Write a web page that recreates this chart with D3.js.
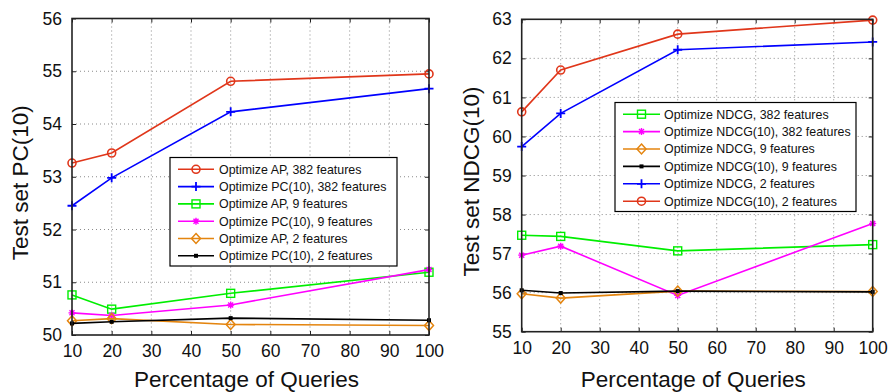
<!DOCTYPE html>
<html>
<head>
<meta charset="utf-8">
<script src="https://cdn.jsdelivr.net/npm/d3@7"></script>
<style>
  body { margin: 0; background: #fff; }
  svg { display: block; font-family: "Liberation Sans", Arial, Helvetica, sans-serif; }
</style>
</head>
<body>
<svg id="chart" width="893" height="392"></svg>
<script>
// ---------- data ----------
const percentages = [10, 20, 50, 100];
const xTicks = [10, 20, 30, 40, 50, 60, 70, 80, 90, 100];

const leftYTicks = [50, 51, 52, 53, 54, 55, 56];
const leftNames = [
  "Optimize AP, 382 features",
  "Optimize PC(10), 382 features",
  "Optimize AP, 9 features",
  "Optimize PC(10), 9 features",
  "Optimize AP, 2 features",
  "Optimize PC(10), 2 features"
];
const apFeat382 = [53.26, 53.45, 54.81, 54.95];
const pcFeat382 = [52.45, 52.98, 54.23, 54.67];
const apFeat9   = [50.76, 50.49, 50.79, 51.19];
const pcFeat9   = [50.42, 50.37, 50.57, 51.24];
const apFeat2   = [50.27, 50.31, 50.20, 50.18];
const pcFeat2   = [50.22, 50.25, 50.32, 50.28];

const rightYTicks = [55, 56, 57, 58, 59, 60, 61, 62, 63];
const rightNames = [
  "Optimize NDCG, 382 features",
  "Optimize NDCG(10), 382 features",
  "Optimize NDCG, 9 features",
  "Optimize NDCG(10), 9 features",
  "Optimize NDCG, 2 features",
  "Optimize NDCG(10), 2 features"
];
const ndcgFeat382   = [57.47, 57.44, 57.07, 57.23];
const ndcg10Feat382 = [56.96, 57.19, 55.93, 57.77];
const ndcgFeat9     = [55.97, 55.86, 56.04, 56.03];
const ndcg10Feat9   = [56.06, 55.99, 56.04, 56.02];
const ndcgFeat2     = [59.74, 60.59, 62.22, 62.42];
const ndcg10Feat2   = [60.63, 61.70, 62.62, 62.98];

// ---------- styles ----------
const C = { red: "#e0361a", blue: "#0000ff", green: "#00ee00", magenta: "#ff00ff", orange: "#e4850f", black: "#000000" };

const leftSeries = [
  { name: leftNames[0], values: apFeat382, color: C.red, marker: "circle" },
  { name: leftNames[1], values: pcFeat382, color: C.blue, marker: "plus" },
  { name: leftNames[2], values: apFeat9, color: C.green, marker: "square" },
  { name: leftNames[3], values: pcFeat9, color: C.magenta, marker: "star" },
  { name: leftNames[4], values: apFeat2, color: C.orange, marker: "diamond" },
  { name: leftNames[5], values: pcFeat2, color: C.black, marker: "dot" }
];
const rightSeries = [
  { name: rightNames[0], values: ndcgFeat382, color: C.green, marker: "square" },
  { name: rightNames[1], values: ndcg10Feat382, color: C.magenta, marker: "star" },
  { name: rightNames[2], values: ndcgFeat9, color: C.orange, marker: "diamond" },
  { name: rightNames[3], values: ndcg10Feat9, color: C.black, marker: "dot" },
  { name: rightNames[4], values: ndcgFeat2, color: C.blue, marker: "plus" },
  { name: rightNames[5], values: ndcg10Feat2, color: C.red, marker: "circle" }
];

const svg = d3.select("#chart");

function drawMarker(g, type, x, y, color) {
  if (type === "circle") {
    g.append("circle").attr("cx", x).attr("cy", y).attr("r", 4)
      .attr("fill", "none").attr("stroke", color).attr("stroke-width", 1.6);
  } else if (type === "square") {
    g.append("rect").attr("x", x - 4).attr("y", y - 4).attr("width", 8).attr("height", 8)
      .attr("fill", "none").attr("stroke", color).attr("stroke-width", 1.4);
  } else if (type === "diamond") {
    g.append("path").attr("d", `M${x},${y-5}L${x+4.5},${y}L${x},${y+5}L${x-4.5},${y}Z`)
      .attr("fill", "none").attr("stroke", color).attr("stroke-width", 1.5);
  } else if (type === "plus") {
    g.append("path").attr("d", `M${x-4.5},${y}H${x+4.5}M${x},${y-4.5}V${y+4.5}`)
      .attr("stroke", color).attr("stroke-width", 1.8);
  } else if (type === "star") {
    g.append("path").attr("d", `M${x-3.5},${y}H${x+3.5}M${x},${y-3.5}V${y+3.5}M${x-2.5},${y-2.5}L${x+2.5},${y+2.5}M${x-2.5},${y+2.5}L${x+2.5},${y-2.5}`)
      .attr("stroke", color).attr("stroke-width", 1.4);
  } else if (type === "dot") {
    g.append("rect").attr("x", x - 2).attr("y", y - 2).attr("width", 4).attr("height", 4)
      .attr("fill", color);
  }
}

function panel(opts) {
  const { x0, x1, y0, y1, yTicks, series, yTitle, yTitleX, legend } = opts;
  const x = d3.scaleLinear().domain([10, 100]).range([x0, x1]);
  const y = d3.scaleLinear().domain([yTicks[0], yTicks[yTicks.length - 1]]).range([y1, y0]);
  const g = svg.append("g");

  // grid
  const grid = g.append("g").attr("stroke", "#8a8a8a").attr("stroke-width", 1).attr("stroke-dasharray", "1,3");
  xTicks.slice(1, -1).forEach(t => grid.append("line").attr("x1", x(t)).attr("x2", x(t)).attr("y1", y0).attr("y2", y1));
  yTicks.slice(1, -1).forEach(t => grid.append("line").attr("x1", x0).attr("x2", x1).attr("y1", y(t)).attr("y2", y(t)));

  // axes
  const xAxis = d3.axisBottom(x).tickValues(xTicks).tickFormat(d3.format("d")).tickSizeInner(-4).tickSizeOuter(0).tickPadding(10);
  const yAxis = d3.axisLeft(y).tickValues(yTicks).tickFormat(d3.format("d")).tickSizeInner(-4).tickSizeOuter(0).tickPadding(10);
  const gx = g.append("g").attr("transform", `translate(0,${y1})`).call(xAxis);
  const gy = g.append("g").attr("transform", `translate(${x0},0)`).call(yAxis);
  const gyR = g.append("g").attr("transform", `translate(${x1},0)`).call(d3.axisRight(y).tickValues(yTicks).tickSizeInner(-4).tickSizeOuter(0).tickFormat(""));
  const gxT = g.append("g").attr("transform", `translate(0,${y0})`).call(d3.axisTop(x).tickValues(xTicks).tickSizeInner(-4).tickSizeOuter(0).tickFormat(""));
  [gx, gy, gyR, gxT].forEach(a => {
    a.select(".domain").remove();
    a.selectAll(".tick line").attr("stroke", "#222").attr("stroke-width", 1);
    a.selectAll("text").attr("font-size", 17.5).attr("fill", "#111").attr("font-family", "Liberation Sans, Arial, sans-serif");
  });
  gx.selectAll("text").attr("dy", "0.71em");

  // series
  const line = d3.line().x((d, i) => x(percentages[i])).y(d => y(d));
  series.forEach(s => {
    g.append("path").datum(s.values).attr("d", line)
      .attr("fill", "none").attr("stroke", s.color).attr("stroke-width", 1.6);
    s.values.forEach((v, i) => drawMarker(g, s.marker, x(percentages[i]), y(v), s.color));
  });

  // box
  g.append("rect").attr("x", x0).attr("y", y0).attr("width", x1 - x0).attr("height", y1 - y0)
    .attr("fill", "none").attr("stroke", "#222").attr("stroke-width", 1.6);

  // titles
  svg.append("text").attr("x", (x0 + x1) / 2 - 4).attr("y", 387).attr("text-anchor", "middle")
    .attr("font-size", 22.5).attr("fill", "#111").text("Percentage of Queries");
  svg.append("text").attr("transform", `translate(${yTitleX},${(y0 + y1) / 2 + 6}) rotate(-90)`)
    .attr("text-anchor", "middle").attr("font-size", 22.5).attr("fill", "#111").text(yTitle);

  // legend
  const L = legend;
  const lg = svg.append("g");
  lg.append("rect").attr("x", L.x).attr("y", L.y).attr("width", L.w).attr("height", L.h)
    .attr("fill", "#fff").attr("stroke", "#000").attr("stroke-width", 1.2);
  series.forEach((s, i) => {
    const cy = L.y + L.first + i * L.step;
    lg.append("line").attr("x1", L.x + L.l1).attr("x2", L.x + L.l2).attr("y1", cy).attr("y2", cy)
      .attr("stroke", s.color).attr("stroke-width", 1.6);
    drawMarker(lg, s.marker, L.x + (L.l1 + L.l2) / 2, cy, s.color);
    lg.append("text").attr("x", L.x + L.tx).attr("y", cy).attr("dy", "0.35em")
      .attr("font-size", 12.4).attr("fill", "#111").text(s.name);
  });
}

panel({
  x0: 72, x1: 429, y0: 18.5, y1: 335,
  yTicks: leftYTicks, series: leftSeries, yTitle: "Test set PC(10)", yTitleX: 28,
  legend: { x: 170, y: 157.5, w: 227, h: 108.5, first: 11.8, step: 17.3, l1: 8, l2: 44, tx: 49 }
});
panel({
  x0: 521.7, x1: 872.7, y0: 19.3, y1: 331.7,
  yTicks: rightYTicks, series: rightSeries, yTitle: "Test set NDCG(10)", yTitleX: 479,
  legend: { x: 615, y: 102.5, w: 241, h: 109, first: 11.7, step: 17.4, l1: 8, l2: 45, tx: 49 }
});
</script>
</body>
</html>
